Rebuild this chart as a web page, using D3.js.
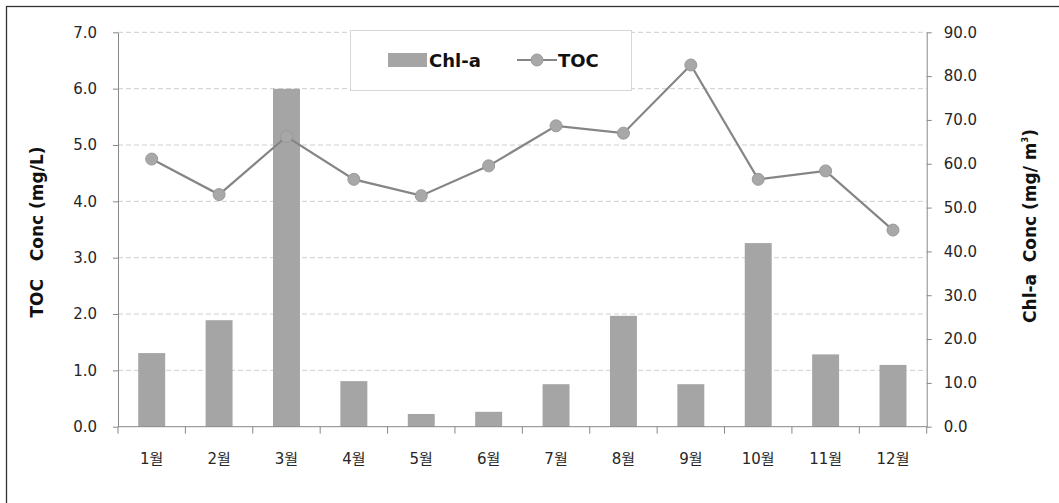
<!DOCTYPE html>
<html>
<head>
<meta charset="utf-8">
<script src="https://cdn.jsdelivr.net/npm/d3@7"></script>
<style>
  html, body { margin: 0; padding: 0; background: #fff; }
  svg { display: block; }
  text { font-family: "DejaVu Sans", "Noto Sans CJK KR", sans-serif; white-space: pre; }
</style>
</head>
<body>
<svg id="chart" width="1059" height="503"></svg>
<script>
// Monthly data
const months = ["1월","2월","3월","4월","5월","6월","7월","8월","9월","10월","11월","12월"];
const chlA = [16.8, 24.3, 77.1, 10.4, 2.9, 3.4, 9.7, 25.3, 9.7, 41.9, 16.5, 14.1];   // mg/㎥ (right axis)
const toc  = [4.75, 4.12, 5.15, 4.39, 4.10, 4.63, 5.34, 5.21, 6.42, 4.39, 4.54, 3.49]; // mg/L (left axis)
const leftTicks  = [0, 1, 2, 3, 4, 5, 6, 7];
const rightTicks = [0, 10, 20, 30, 40, 50, 60, 70, 80, 90];

const FONT = "'DejaVu Sans', 'Noto Sans CJK KR', sans-serif";
const svg = d3.select("#chart");
const plot = { left: 118, right: 926.7, top: 32.3, bottom: 426.7 };

// Frame around the figure
svg.append("rect").attr("x", 6.5).attr("y", 6.5).attr("width", 1100).attr("height", 600)
  .attr("fill", "none").attr("stroke", "#333").attr("stroke-width", 1.3);

const x = d3.scaleBand().domain(months).range([plot.left, plot.right]);
const yL = d3.scaleLinear().domain([0, 7]).range([plot.bottom, plot.top]);
const yR = d3.scaleLinear().domain([0, 90]).range([plot.bottom, plot.top]);

// Horizontal dashed gridlines
svg.append("g").selectAll("line").data(leftTicks.filter(d => d > 0)).join("line")
  .attr("x1", plot.left).attr("x2", plot.right)
  .attr("y1", d => yL(d)).attr("y2", d => yL(d))
  .attr("stroke", "#cfcfcf").attr("stroke-width", 1).attr("stroke-dasharray", "5,3");

// Chl-a bars
const barW = x.bandwidth() * 0.4;
svg.append("g").selectAll("rect").data(months).join("rect")
  .attr("x", d => x(d) + (x.bandwidth() - barW) / 2)
  .attr("width", barW)
  .attr("y", (d, i) => yR(chlA[i]))
  .attr("height", (d, i) => plot.bottom - yR(chlA[i]))
  .attr("fill", "#a5a5a5");

// Axes
const tickFont = g => g.selectAll("text").attr("font-size", 15).attr("fill", "#262626")
  .style("font-family", FONT);
const axisColor = g => { g.selectAll("line,path").attr("stroke", "#888"); };

const gL = svg.append("g").attr("transform", `translate(${plot.left},0)`)
  .call(d3.axisLeft(yL).tickValues(leftTicks).tickFormat(d3.format(".1f")).tickSize(5).tickSizeOuter(0).tickPadding(16));
gL.call(axisColor).call(tickFont);

const gR = svg.append("g").attr("transform", `translate(${plot.right},0)`)
  .call(d3.axisRight(yR).tickValues(rightTicks).tickFormat(d3.format(".1f")).tickSize(5).tickSizeOuter(0).tickPadding(12));
gR.call(axisColor).call(tickFont);

// Category axis with ticks on band boundaries
const gX = svg.append("g").attr("transform", `translate(0,${plot.bottom})`);
gX.append("line").attr("x1", plot.left).attr("x2", plot.right).attr("stroke", "#888");
gX.selectAll("line.tk").data(d3.range(months.length + 1)).join("line").attr("class", "tk")
  .attr("x1", i => plot.left + i * x.step()).attr("x2", i => plot.left + i * x.step())
  .attr("y1", 0).attr("y2", 7).attr("stroke", "#888");
gX.selectAll("text").data(months).join("text")
  .attr("x", d => x(d) + x.bandwidth() / 2).attr("y", 37)
  .attr("text-anchor", "middle").attr("font-size", 15).attr("fill", "#262626").text(d => d);

// TOC line with markers
const line = d3.line().x((d, i) => x(months[i]) + x.bandwidth() / 2).y(d => yL(d));
svg.append("path").datum(toc).attr("d", line)
  .attr("fill", "none").attr("stroke", "#858585").attr("stroke-width", 2.2);
svg.append("g").selectAll("circle").data(toc).join("circle")
  .attr("cx", (d, i) => x(months[i]) + x.bandwidth() / 2).attr("cy", d => yL(d))
  .attr("r", 6).attr("fill", "#a8a8a8").attr("stroke", "#999").attr("stroke-width", 1);

// Axis titles
svg.append("text").attr("transform", `translate(43,${232}) rotate(-90)`)
  .attr("text-anchor", "middle").attr("font-size", 17).attr("font-weight", "bold").attr("fill", "#111")
  .text("TOC   Conc (mg/L)");
const rt = svg.append("text").attr("transform", `translate(1036,${226}) rotate(-90)`)
  .attr("text-anchor", "middle").attr("font-size", 17).attr("font-weight", "bold").attr("fill", "#111");
rt.append("tspan").text("Chl-a  Conc (mg/ m");
rt.append("tspan").attr("font-size", 8).attr("dy", -8).text("3");
rt.append("tspan").attr("dy", 8).text(")");

// Legend
const lg = svg.append("g");
lg.append("rect").attr("x", 350.5).attr("y", 30.5).attr("width", 281).attr("height", 60)
  .attr("fill", "#fff").attr("stroke", "#d6d6d6");
lg.append("rect").attr("x", 388).attr("y", 53).attr("width", 39).attr("height", 14).attr("fill", "#a5a5a5");
lg.append("text").attr("x", 429).attr("y", 66.5).attr("font-size", 18).attr("font-weight", "bold")
  .attr("fill", "#111").text("Chl-a");
lg.append("line").attr("x1", 517).attr("x2", 557).attr("y1", 60).attr("y2", 60)
  .attr("stroke", "#858585").attr("stroke-width", 2.2);
lg.append("circle").attr("cx", 537).attr("cy", 60).attr("r", 6).attr("fill", "#a8a8a8").attr("stroke", "#999");
lg.append("text").attr("x", 558).attr("y", 66.5).attr("font-size", 18).attr("font-weight", "bold")
  .attr("fill", "#111").text("TOC");
</script>
</body>
</html>
